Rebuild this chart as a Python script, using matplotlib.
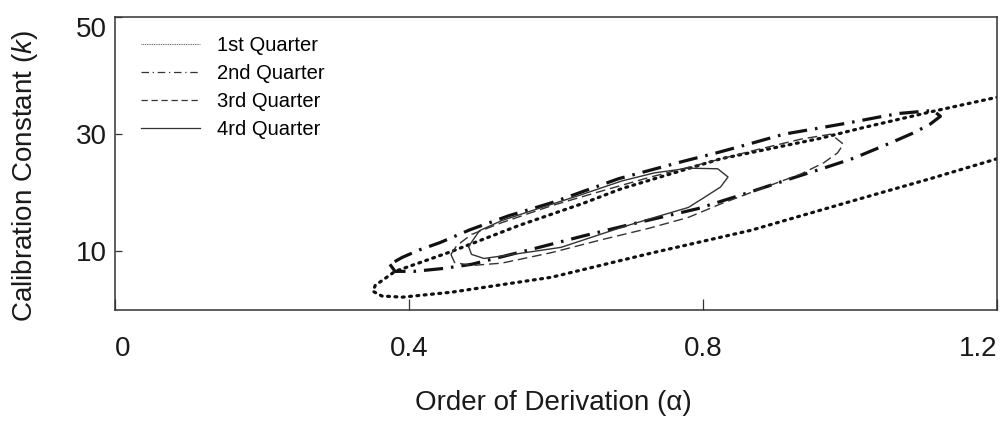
import matplotlib
matplotlib.use('Agg')
import matplotlib.pyplot as plt
from matplotlib.lines import Line2D

plt.rcParams['font.family'] = ['Liberation Sans', 'DejaVu Sans']
plt.rcParams['mathtext.fontset'] = 'custom'
plt.rcParams['mathtext.rm'] = 'Liberation Sans'
plt.rcParams['mathtext.it'] = 'Liberation Sans:italic'

# Contour outlines: order of derivation (alpha) vs calibration constant (k)
q1_alpha = [1.200, 1.109, 1.014, 0.865, 0.729, 0.594, 0.458, 0.391, 0.363, 0.351,
            0.354, 0.381, 0.458, 0.549, 0.639, 0.689, 0.824, 0.960, 1.014, 1.113, 1.200]
q1_k = [25.8, 22.4, 19.0, 13.6, 9.7, 5.6, 3.05, 2.2, 2.4, 3.2,
        4.2, 6.6, 10.0, 14.4, 18.3, 20.7, 25.8, 29.3, 31.0, 33.9, 36.3]

q2_alpha = [0.374, 0.381, 0.407, 0.447, 0.485, 0.571, 0.639, 0.706, 0.793, 0.856,
            0.919, 0.964, 1.005, 1.055, 1.086, 1.109, 1.123, 1.113, 1.068, 1.045,
            1.001, 0.956, 0.910, 0.862, 0.818, 0.774, 0.685, 0.594, 0.536, 0.483,
            0.442, 0.415, 0.391, 0.374]
q2_k = [7.8, 6.6, 6.6, 7.1, 7.8, 10.5, 12.7, 14.75, 17.3, 19.8,
        22.4, 24.2, 25.9, 28.5, 30.2, 31.7, 33.05, 34.05, 33.55, 33.05,
        32.0, 31.0, 30.0, 28.3, 26.8, 25.4, 22.4, 18.3, 16.1, 13.7,
        11.5, 10.3, 9.0, 7.8]

q3_alpha = [0.457, 0.462, 0.485, 0.526, 0.594, 0.662, 0.725, 0.780, 0.824, 0.879,
            0.933, 0.964, 0.983, 0.991, 0.974, 0.933, 0.865, 0.797, 0.729, 0.662,
            0.594, 0.526, 0.485, 0.465, 0.457]
q3_k = [9.5, 8.1, 7.6, 8.0, 9.8, 12.0, 13.9, 15.8, 18.1, 20.7,
        23.2, 25.1, 26.8, 28.3, 30.0, 29.15, 27.1, 24.9, 22.7, 20.3,
        17.8, 14.9, 12.9, 11.0, 9.5]

q4_alpha = [0.481, 0.485, 0.502, 0.553, 0.607, 0.689, 0.734, 0.780, 0.801, 0.824,
            0.834, 0.820, 0.780, 0.734, 0.689, 0.635, 0.567, 0.526, 0.496, 0.481]
q4_k = [10.85, 9.5, 8.8, 9.7, 10.7, 14.1, 15.8, 17.5, 19.15, 21.0,
        22.7, 24.1, 24.2, 23.4, 22.0, 19.7, 16.95, 15.25, 13.55, 10.85]

labels = ['1st Quarter', '2nd Quarter', '3rd Quarter', '4rd Quarter']
x_ticks = [0, 0.4, 0.8, 1.2]
x_ticklabels = ['0', '0.4', '0.8', '1.2']
y_ticks = [10, 30, 50]

fig = plt.figure(figsize=(10.02, 4.23), dpi=100)
ax = fig.add_axes([0.1148, 0.267, 0.8802, 0.693])

ink = '#111111'
ax.plot(q1_alpha, q1_k, color=ink, lw=2.3, linestyle=(0, (0.6, 1.7)), dash_capstyle='round')
ax.plot(q2_alpha, q2_k, color=ink, lw=2.3, linestyle=(0, (6, 2.5, 0.8, 2.5)))
ax.plot(q3_alpha, q3_k, color='#333333', lw=1.0, linestyle=(0, (7, 3.5)))
ax.plot(q4_alpha, q4_k, color='#333333', lw=1.0)

ax.set_xlim(0, 1.2)
ax.set_ylim(0, 50)
ax.set_xticks(x_ticks)
ax.set_xticklabels(x_ticklabels)
ax.set_yticks(y_ticks)
ax.tick_params(axis='x', direction='in', length=8, width=0.9, pad=19, labelsize=20, colors='#333333',
               labelcolor='#1a1a1a')
ax.tick_params(axis='y', direction='in', length=5, width=0.9, pad=6, labelsize=20, colors='#333333',
               labelcolor='#1a1a1a')
xl = ax.get_xticklabels()
xl[0].set_ha('left')
xl[-1].set_ha('right')
ax.get_yticklabels()[-1].set_va('top')
for s in ax.spines.values():
    s.set_color('#333333')
    s.set_linewidth(1.1)

fig.text(553 / 1002, 1 - 403 / 423, 'Order of Derivation (\u03b1)', fontsize=20,
         ha='center', va='center', color='#1a1a1a')
fig.text(25 / 1002, 1 - 176 / 423, 'Calibration Constant ($\\mathit{k}$)', fontsize=20,
         rotation=90, ha='center', va='center', color='#1a1a1a')

handles = [
    Line2D([], [], color='#555555', lw=0.8, linestyle=(0, (0.8, 0.8))),
    Line2D([], [], color='#333333', lw=0.9, linestyle=(0, (6, 3, 1, 3))),
    Line2D([], [], color='#333333', lw=0.9, linestyle=(0, (5, 3))),
    Line2D([], [], color='#333333', lw=0.9),
]
ax.legend(handles, labels, loc='upper left', bbox_to_anchor=(0.03, 0.935), frameon=False,
          fontsize=14.5, borderpad=0, borderaxespad=0, handlelength=2.9, handletextpad=0.85,
          labelspacing=0.45)

fig.savefig('out.png', dpi=100)
